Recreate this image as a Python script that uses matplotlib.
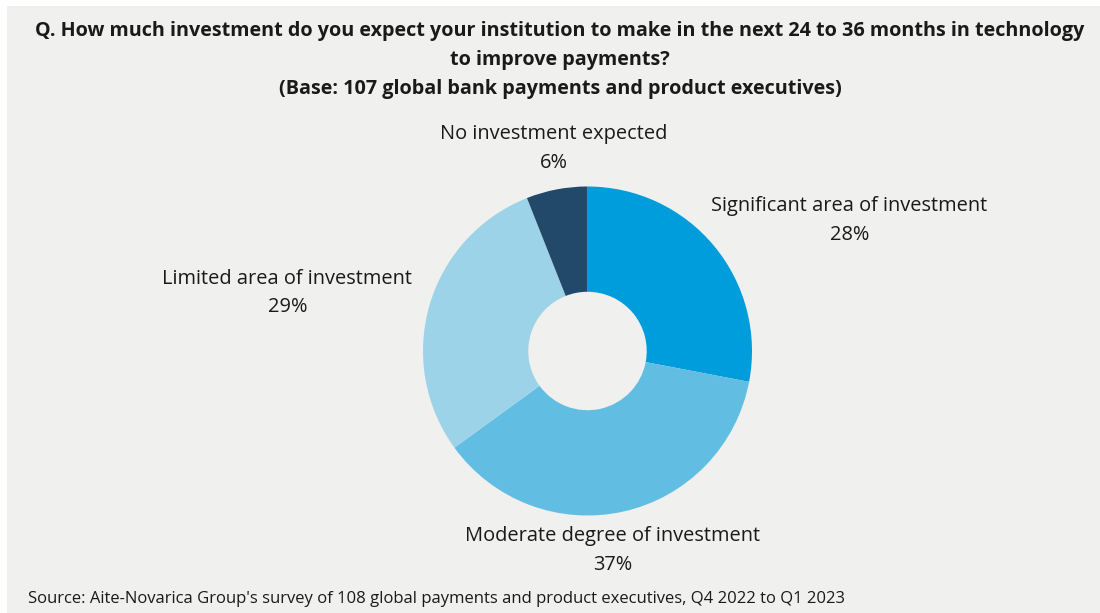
import matplotlib.pyplot as plt
from matplotlib.patches import Rectangle

# survey answers, clockwise from 12 o'clock
categories = ["Significant area of investment", "Moderate degree of investment",
              "Limited area of investment", "No investment expected"]
shares = [28, 37, 29, 6]
colors = ["#009ddc", "#62bde3", "#9dd3e8", "#22496a"]

title = ("Q. How much investment do you expect your institution to make in the next 24 to 36 months in technology\n"
         "to improve payments?\n"
         "(Base: 107 global bank payments and product executives)")
source = "Source: Aite-Novarica Group's survey of 108 global payments and product executives, Q4 2022 to Q1 2023"

W, H = 1100, 613
bg = "#f0f0ee"
plt.rcParams['font.family'] = ['Open Sans', 'DejaVu Sans']


def px(x, y):
    # pixel position (from top-left) -> figure fraction
    return x / W, 1 - y / H


fig = plt.figure(figsize=(W / 100, H / 100), dpi=100, facecolor="white")
fig.patches.append(Rectangle(px(7, H + 10), (W + 10) / W, (H + 4) / H, transform=fig.transFigure,
                             facecolor=bg, edgecolor="none", zorder=-5))

cx, cy, R = 587.5, 351, 164.5
ax = fig.add_axes([(cx - R) / W, 1 - (cy + R) / H, 2 * R / W, 2 * R / H])
ax.pie(shares, colors=colors, startangle=90, counterclock=False, radius=1,
       wedgeprops=dict(width=0.64, edgecolor="none"))
ax.set_xlim(-1, 1)
ax.set_ylim(-1, 1)
ax.set_aspect("equal")
ax.axis("off")

# label anchors in pixels (center of the two-line block)
label_pos = [(849.5, 221), (613, 550), (287.5, 293), (554, 148)]
for name, v, (x, y) in zip(categories, shares, label_pos):
    fig.text(*px(x, y), f"{name}\n{v}%", ha="center", va="center", fontsize=14.4,
             color="#1a1a1a", linespacing=1.6)

fig.text(*px(560, 60), title, ha="center", va="center", fontsize=14.2,
         fontweight="bold", color="#1a1a1a", linespacing=1.58)
fig.text(*px(28, 599), source, ha="left", va="center", fontsize=12, color="#1a1a1a")

fig.savefig("out.png", dpi=100, facecolor=fig.get_facecolor())
